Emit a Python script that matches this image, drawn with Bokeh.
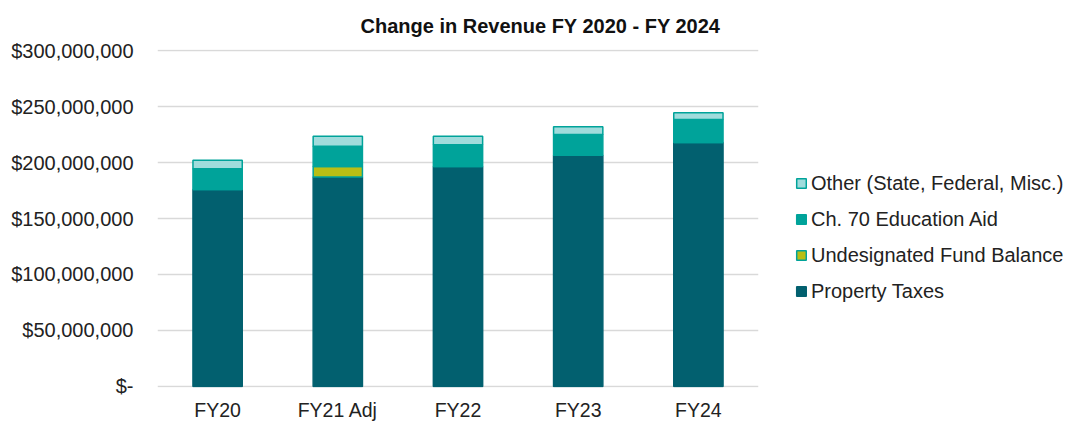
from bokeh.plotting import figure
from bokeh.models import FactorRange, Range1d, FixedTicker, Legend, LegendItem, Title
from bokeh.embed import file_html
from bokeh.resources import INLINE

# ---- data ----
categories = ["FY20", "FY21 Adj", "FY22", "FY23", "FY24"]
property_taxes = [176.0e6, 187.0e6, 196.5e6, 206.5e6, 218.0e6]
undesignated = [0.0, 9.5e6, 0.0, 0.0, 0.0]
ch70_aid = [18.5e6, 18.0e6, 19.5e6, 18.5e6, 20.5e6]
other = [7.5e6, 9.0e6, 7.5e6, 7.0e6, 6.0e6]
series_names = ["Property Taxes", "Undesignated Fund Balance", "Ch. 70 Education Aid", "Other (State, Federal, Misc.)"]
y_ticks = [0, 50e6, 100e6, 150e6, 200e6, 250e6, 300e6]
y_tick_labels = ["$-", "$50,000,000", "$100,000,000", "$150,000,000", "$200,000,000", "$250,000,000", "$300,000,000"]
title_text = "Change in Revenue FY 2020 - FY 2024"

FONT = "Liberation Sans"
TXT = "#222222"

p = figure(
    x_range=FactorRange(*categories, range_padding=0.0),
    y_range=Range1d(-1e6, 301e6),
    frame_width=601, frame_height=338,
    min_border_left=157, min_border_top=49, min_border_right=312, min_border_bottom=20,
    output_backend="svg", toolbar_location=None,
)
p.outline_line_color = None
p.background_fill_color = "white"

fills = ["#02606F", "#B8BE14", "#00A39A", "#A0DCDC"]
lines = ["#02606F", "#00A39A", "#00A39A", "#00A39A"]
series = [property_taxes, undesignated, ch70_aid, other]

bottom = [0.0] * len(categories)
renderers = []
for name, vals, fc, lc in zip(series_names, series, fills, lines):
    top = [b + v for b, v in zip(bottom, vals)]
    r = p.vbar(x=categories, bottom=bottom, top=top, width=0.41,
               fill_color=fc, line_color=lc, line_width=1.5)
    renderers.append(r)
    bottom = top

# axes
p.yaxis.ticker = FixedTicker(ticks=y_ticks)
p.yaxis.major_label_overrides = {t: l for t, l in zip(y_ticks, y_tick_labels)}
p.yaxis.axis_line_color = None
p.yaxis.major_tick_line_color = None
p.yaxis.minor_tick_line_color = None
p.yaxis.major_label_standoff = 18
p.yaxis.major_label_text_font = FONT
p.yaxis.major_label_text_font_size = "20px"
p.yaxis.major_label_text_color = TXT

p.xaxis.axis_line_color = None
p.xaxis.major_tick_line_color = None
p.xaxis.minor_tick_line_color = None
p.xaxis.major_label_standoff = 5
p.xaxis.major_label_text_font = FONT
p.xaxis.major_label_text_font_size = "19.5px"
p.xaxis.major_label_text_color = TXT

p.xgrid.grid_line_color = None
p.ygrid.grid_line_color = "#D9D9D9"
p.ygrid.grid_line_width = 1.5

# title
t = Title(text=title_text, align="left", offset=203, standoff=25,
          text_font=FONT, text_font_size="20px", text_font_style="bold", text_color="#111111")
p.add_layout(t, "above")

# legend (reverse order like the reference)
items = [LegendItem(label=n, renderers=[r]) for n, r in zip(series_names, renderers)][::-1]
legend = Legend(items=items, location=(37, 84), orientation="vertical",
                label_text_font=FONT, label_text_font_size="20px", label_text_color=TXT,
                glyph_width=12, glyph_height=12, label_height=24, spacing=12,
                label_standoff=4, padding=0, margin=0,
                border_line_color=None, background_fill_alpha=0)
p.add_layout(legend, "right")

open("out.html", "w").write(file_html(p, INLINE))
